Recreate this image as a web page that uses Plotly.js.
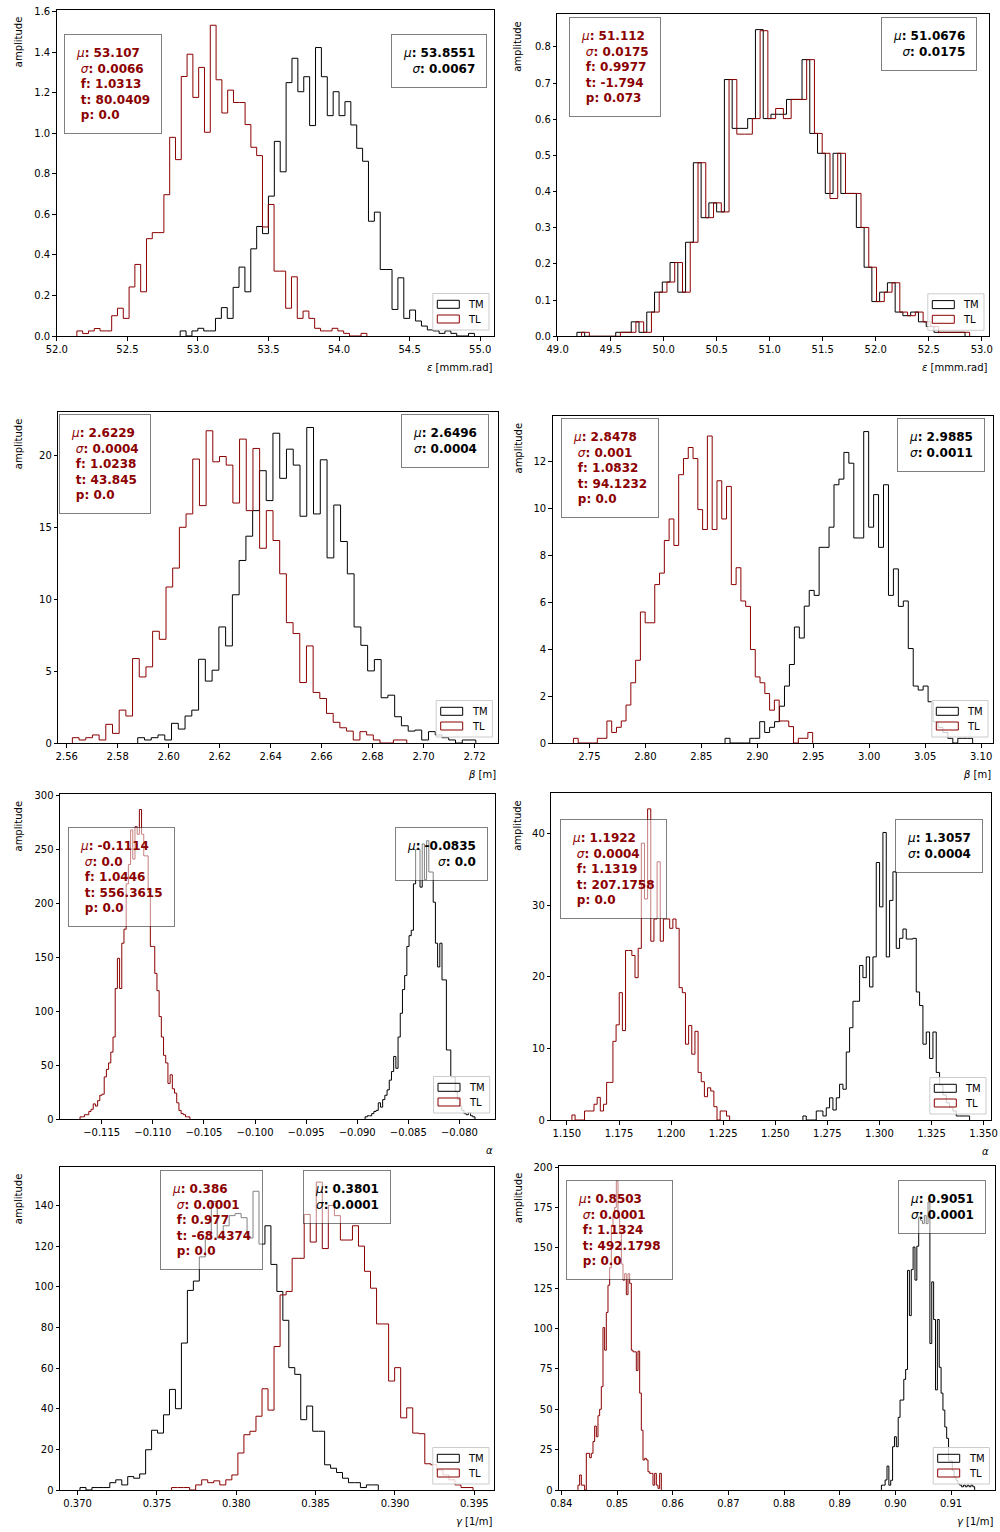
<!DOCTYPE html>
<html>
<head>
<meta charset="utf-8">
<script src="https://cdn.plot.ly/plotly-3.0.1.min.js"></script>
<style>html,body{margin:0;padding:0;background:#fff}</style>
</head>
<body>
<div id="chart" style="width:1000px;height:1532px"></div>
<script>
// ---- Histogram counts (50 bins each) and binning [first edge, bin width] ----
const emitX_TM_bins = [52.874, 0.0417];
const emitX_TM = [0.025, 0, 0.025, 0.038, 0.025, 0.025, 0.087, 0.140, 0.087, 0.240, 0.340, 0.218, 0.430, 0.540, 0.505, 0.690, 0.960, 0.810, 1.250, 1.370, 1.205, 1.279, 1.038, 1.423, 1.279, 1.087, 1.205, 1.087, 1.156, 1.041, 0.926, 0.862, 0.566, 0.611, 0.328, 0.328, 0.131, 0.287, 0.087, 0.128, 0.074, 0.049, 0.030, 0.025, 0.013, 0.025, 0.013, 0, 0, 0.013];
const emitX_TL_bins = [52.142, 0.0411];
const emitX_TL = [0.025, 0.012, 0.025, 0.037, 0.025, 0.025, 0.100, 0.137, 0.087, 0.242, 0.353, 0.218, 0.480, 0.510, 0.510, 0.697, 0.980, 0.870, 1.280, 1.390, 1.177, 1.325, 1.005, 1.533, 1.264, 1.100, 1.213, 1.152, 1.152, 1.043, 0.931, 0.890, 0.538, 0.649, 0.320, 0.320, 0.137, 0.292, 0.087, 0.123, 0.087, 0.038, 0.025, 0.025, 0.038, 0.025, 0.013, 0, 0, 0.013];

const emitY_TM_bins = [49.182, 0.0732];
const emitY_TM = [0.011, 0, 0, 0, 0, 0.011, 0.011, 0.040, 0.011, 0.067, 0.122, 0.150, 0.204, 0.122, 0.260, 0.480, 0.328, 0.369, 0.344, 0.710, 0.575, 0.575, 0.602, 0.848, 0.602, 0.614, 0.614, 0.655, 0.655, 0.765, 0.561, 0.506, 0.395, 0.506, 0.395, 0.395, 0.301, 0.191, 0.096, 0.122, 0.148, 0.067, 0.057, 0.067, 0.040, 0.027, 0.011, 0.011, 0.011, 0.011];
const emitY_TL_bins = [49.226, 0.0732];
const emitY_TL = [0.011, 0, 0, 0, 0, 0.011, 0.011, 0.040, 0.011, 0.067, 0.122, 0.150, 0.204, 0.122, 0.260, 0.480, 0.328, 0.369, 0.344, 0.710, 0.559, 0.559, 0.602, 0.845, 0.602, 0.630, 0.602, 0.655, 0.655, 0.765, 0.561, 0.506, 0.381, 0.506, 0.395, 0.395, 0.301, 0.191, 0.096, 0.122, 0.148, 0.067, 0.057, 0.067, 0.040, 0.027, 0.011, 0.011, 0.011, 0.011];

const betaX_TM_bins = [2.58786, 0.002653];
const betaX_TM = [0.37, 0.21, 0.37, 0.56, 0.21, 1.37, 0.97, 1.88, 2.29, 5.83, 4.31, 5.07, 8.08, 6.76, 10.32, 12.71, 14.40, 16.18, 18.96, 16.88, 21.57, 18.43, 20.46, 19.35, 15.79, 21.97, 15.95, 19.72, 12.89, 16.57, 14.03, 11.78, 8.08, 6.80, 5.02, 5.81, 3.15, 3.33, 1.83, 1.20, 0.83, 0.90, 0.21, 0.79, 0.56, 0.37, 0.21, 0, 0.21, 0.21];
const betaX_TL_bins = [2.56222, 0.002624];
const betaX_TL = [0.37, 0.21, 0.37, 0.56, 0.21, 1.30, 0.67, 2.29, 1.88, 5.88, 4.60, 5.30, 7.78, 7.22, 10.86, 12.18, 15.02, 15.95, 19.77, 16.53, 21.74, 19.58, 19.95, 19.35, 16.71, 21.16, 16.18, 20.51, 13.56, 16.18, 14.10, 11.78, 8.38, 7.62, 4.21, 6.76, 3.52, 3.10, 2.06, 1.44, 1.06, 0.83, 0.21, 0.79, 0.56, 0.21, 0, 0, 0.21, 0.21];

const betaY_TM_bins = [2.8712, 0.004425];
const betaY_TM = [0.20, 0, 0, 0, 0, 0.20, 0.20, 0.91, 0.45, 0.67, 0.91, 1.57, 2.43, 3.35, 4.95, 4.48, 5.84, 6.51, 6.30, 8.35, 8.35, 9.21, 11.02, 11.26, 12.40, 11.94, 8.75, 8.75, 13.29, 9.21, 10.60, 8.35, 11.02, 6.30, 7.43, 5.83, 6.06, 4.03, 2.43, 2.26, 2.43, 1.76, 0.91, 0.67, 0.45, 0.20, 0, 0.20, 0.20, 0.20];
const betaY_TL_bins = [2.7357, 0.004276];
const betaY_TL = [0.20, 0, 0, 0, 0, 0.20, 0.20, 0.94, 0.45, 0.67, 0.94, 1.62, 2.57, 3.53, 5.59, 5.13, 5.13, 6.76, 7.25, 8.64, 9.56, 8.43, 11.45, 12.14, 12.61, 12.14, 9.96, 9.11, 13.10, 9.11, 11.19, 9.56, 10.95, 6.76, 7.48, 6.06, 5.83, 3.99, 2.82, 2.57, 2.11, 1.40, 1.83, 0.94, 0.94, 0.70, 0, 0.20, 0.20, 0.45];

const alphaX_TM_bins = [-0.08923, 0.000215];
const alphaX_TM = [2, 3, 3, 5, 7, 8, 15, 11, 18, 22, 27, 36, 44, 58, 47, 76, 98, 120, 133, 160, 170, 175, 218, 250, 250, 215, 255, 222, 258, 229, 229, 201, 163, 141, 163, 129, 129, 64, 64, 39, 39, 25, 18, 12, 8, 5, 4, 6, 3, 2];
const alphaX_TL_bins = [-0.11712, 0.000215];
const alphaX_TL = [2, 2, 4, 4, 7, 9, 14, 12, 17, 22, 23, 39, 46, 52, 62, 76, 121, 149, 121, 163, 176, 218, 236, 268, 241, 271, 264, 287, 264, 244, 244, 210, 160, 160, 135, 119, 95, 76, 59, 52, 33, 41, 28, 24, 15, 8, 5, 4, 2, 2];

const alphaY_TM_bins = [1.26328, 0.0016];
const alphaY_TM = [0.56, 0, 0, 0, 1.26, 1.26, 0.56, 1.7, 3.1, 1.4, 3.1, 5.0, 4.3, 9.5, 12.9, 16.6, 16.6, 21.6, 19.9, 22.8, 18.6, 22.8, 36.0, 29.8, 40.2, 22.8, 30.7, 34.7, 24.0, 25.4, 26.7, 25.3, 25.3, 25.4, 17.9, 16.0, 10.6, 12.3, 8.6, 12.3, 6.65, 4.9, 3.5, 2.4, 1.8, 1.26, 0.56, 0.56, 0.56, 0.56];
const alphaY_TL_bins = [1.1524, 0.001514];
const alphaY_TL = [0.7, 0, 0, 0, 1.26, 1.26, 1.26, 2.2, 3.16, 1.26, 2.2, 5.26, 5.26, 11.0, 13.3, 17.8, 12.5, 23.7, 23.7, 23.0, 19.9, 24.0, 38.7, 30.9, 43.5, 25.0, 28.1, 36.1, 25.0, 28.1, 28.1, 26.8, 28.1, 26.8, 18.5, 17.8, 10.6, 13.2, 9.2, 12.4, 6.65, 5.35, 3.26, 4.5, 4.05, 1.86, 0, 1.26, 1.26, 0.56];

const gammaX_TM_bins = [0.37015, 0.000376];
const gammaX_TM = [1.2, 0, 1.2, 1.2, 1.2, 3.6, 5.0, 2.5, 6.6, 5.8, 7.9, 19.8, 29.4, 28.0, 37.0, 49.5, 40.0, 72.3, 98.2, 102.8, 114.7, 123.8, 142.0, 124.0, 130.0, 135.0, 136.0, 134.0, 124.0, 147.0, 121.0, 130.0, 111.0, 97.7, 83.5, 60.2, 56.9, 34.6, 41.3, 28.9, 28.9, 12.4, 10.7, 8.6, 5.8, 3.6, 3.6, 1.2, 2.5, 2.5];
const gammaX_TL_bins = [0.37592, 0.00038];
const gammaX_TL = [1.2, 1.2, 1.2, 0, 2.5, 5.0, 3.6, 4.5, 2.5, 5.0, 7.4, 18.2, 27.2, 28.9, 36.3, 49.8, 39.3, 70.6, 96.0, 97.7, 114.0, 114.0, 135.6, 122.0, 151.5, 118.8, 140.0, 135.0, 123.0, 123.0, 130.0, 120.0, 107.6, 99.3, 81.7, 81.7, 53.6, 60.2, 35.5, 40.4, 28.0, 27.7, 12.9, 12.4, 9.9, 7.4, 5.0, 2.5, 1.2, 1.2];

const gammaY_TM_bins = [0.89749, 0.000335];
const gammaY_TM = [3, 3, 6.2, 14.8, 3, 6, 26.8, 33, 26.8, 45, 55.7, 55.7, 68.5, 74.6, 136, 108, 136.5, 150.5, 130, 151, 169, 167, 165, 170, 165, 178.4, 90.7, 128.9, 105.6, 62, 105.6, 76, 60, 49.5, 39, 32, 18, 18, 12, 8, 6, 4, 3, 2, 3, 2, 3, 2, 3, 2];
const gammaY_TL_bins = [0.84299, 0.0002994];
const gammaY_TL = [3, 9.3, 3, 3, 0, 22.7, 22.7, 20, 22.7, 30, 39.6, 33, 46, 50, 64, 100.6, 86.6, 110, 126.8, 137.7, 164, 170, 175, 191.3, 170, 160, 140, 130, 134, 121, 134, 128, 86.6, 85.6, 85.6, 74, 86, 60, 37, 18.6, 19.6, 18.6, 11.3, 10.3, 10.3, 3, 10.3, 3, 1, 10.3];

// ---- Fit statistics printed in the boxes ----
const tlMu    = ['53.107', '51.112', '2.6229', '2.8478', '-0.1114', '1.1922', '0.386', '0.8503'];
const tlSigma = ['0.0066', '0.0175', '0.0004', '0.001', '0.0', '0.0004', '0.0001', '0.0001'];
const tlF     = ['1.0313', '0.9977', '1.0238', '1.0832', '1.0446', '1.1319', '0.977', '1.1324'];
const tlT     = ['80.0409', '-1.794', '43.845', '94.1232', '556.3615', '207.1758', '-68.4374', '492.1798'];
const tlP     = ['0.0', '0.073', '0.0', '0.0', '0.0', '0.0', '0.0', '0.0'];
const tmMu    = ['53.8551', '51.0676', '2.6496', '2.9885', '-0.0835', '1.3057', '0.3801', '0.9051'];
const tmSigma = ['0.0067', '0.0175', '0.0004', '0.0011', '0.0', '0.0004', '0.0001', '0.0001'];

const xLabels = ['<i>ε</i> [mmm.rad]', '<i>ε</i> [mmm.rad]', '<i>β</i> [m]', '<i>β</i> [m]',
                 '<i>α</i>', '<i>α</i>', '<i>γ</i> [1/m]', '<i>γ</i> [1/m]'];
const seriesNames = ['TM', 'TL'];

// ---- Per-panel axis and placement settings ----
const panels = [
  {tm: emitX_TM, tmb: emitX_TM_bins, tl: emitX_TL, tlb: emitX_TL_bins,
   box: [56.7, 494.3, 9.7, 336], xr: [51.999, 55.10], x0: 52, dx: 0.5, xf: '.1f', dy: 0.2, yf: '.1f',
   lb: [7.6, 24.6], rb: [7.6, 24.6]},
  {tm: emitY_TM, tmb: emitY_TM_bins, tl: emitY_TL, tlb: emitY_TL_bins,
   box: [557.3, 989.3, 14.3, 336.3], xr: [48.997, 53.071], x0: 49, dx: 0.5, xf: '.1f', dy: 0.1, yf: '.1f',
   lb: [12, 3], rb: [12, 3]},
  {tm: betaX_TM, tmb: betaX_TM_bins, tl: betaX_TL, tlb: betaX_TL_bins,
   box: [58.3, 497.7, 411.7, 743], xr: [2.5567, 2.7291], x0: 2.56, dx: 0.02, xf: '.2f', dy: 5, yf: 'd',
   lb: [0.7, 2.6], rb: [8.4, 2.6]},
  {tm: betaY_TM, tmb: betaY_TM_bins, tl: betaY_TL, tlb: betaY_TL_bins,
   box: [552.7, 993.3, 416, 743], xr: [2.7172, 3.1109], x0: 2.75, dx: 0.05, xf: '.2f', dy: 2, yf: 'd',
   lb: [8, 2.3], rb: [8.3, 2.3]},
  {tm: alphaX_TM, tmb: alphaX_TM_bins, tl: alphaX_TL, tlb: alphaX_TL_bins,
   box: [60, 495, 794, 1119], xr: [-0.11908, -0.07652], x0: -0.115, dx: 0.005, xf: '.3f', dy: 50, yf: 'd',
   lb: [8.3, 33.3], rb: [7.3, 33.3]},
  {tm: alphaY_TM, tmb: alphaY_TM_bins, tl: alphaY_TL, tlb: alphaY_TL_bins,
   box: [551.3, 991.3, 793.3, 1120], xr: [1.1425, 1.3537], x0: 1.15, dx: 0.025, xf: '.3f', dy: 10, yf: 'd',
   lb: [8.4, 25.7], rb: [8.3, 25.7]},
  {tm: gammaX_TM, tmb: gammaX_TM_bins, tl: gammaX_TL, tlb: gammaX_TL_bins,
   box: [60, 494.3, 1166.7, 1490], xr: [0.36889, 0.39626], x0: 0.37, dx: 0.005, xf: '.3f', dy: 20, yf: 'd',
   lb: [100, 3.3], rb: [103.6, 3.3]},
  {tm: gammaY_TM, tmb: gammaY_TM_bins, tl: gammaY_TL, tlb: gammaY_TL_bins,
   box: [559, 994.7, 1165.7, 1490], xr: [0.83958, 0.91784], x0: 0.84, dx: 0.01, xf: '.2f', dy: 25, yf: 'd',
   lb: [7.3, 14.3], rb: [8.4, 14.3]}
];

const W = 1000, H = 1532;
const TM_COLOR = 'black', TL_COLOR = '#8b0000';
const FONT = 'DejaVu Sans, Verdana, sans-serif';

// Step outline of a histogram: up at the first edge, across every bin, down at the last edge
function stepOutline(bins, counts) {
  const start = bins[0], width = bins[1], n = counts.length;
  const x = [start], y = [0];
  counts.forEach((c, i) => { x.push(start + i * width); y.push(c); });
  x.push(start + n * width); y.push(counts[n - 1]);
  x.push(start + n * width); y.push(0);
  return {x, y};
}

const traces = [], annotations = [], shapes = [];
const layout = {
  width: W, height: H,
  margin: {l: 0, r: 0, t: 0, b: 0},
  paper_bgcolor: 'white', plot_bgcolor: 'white',
  showlegend: false,
  font: {family: FONT, size: 10, color: 'black'}
};

panels.forEach((p, i) => {
  const k = i + 1, sfx = k === 1 ? '' : String(k);
  const xa = 'x' + sfx, ya = 'y' + sfx;
  const [l, r, t, b] = p.box;
  const ymax = Math.max(...p.tm, ...p.tl) * 1.05;

  const common = {
    showline: true, mirror: true, linecolor: 'black', linewidth: 1,
    ticks: 'outside', ticklen: 3.5, tickwidth: 1, tickcolor: 'black',
    showgrid: false, zeroline: false, fixedrange: true,
    tickfont: {family: FONT, size: 10, color: 'black'}
  };
  layout['xaxis' + sfx] = Object.assign({}, common, {
    domain: [l / W, r / W], anchor: ya, range: p.xr,
    tick0: p.x0, dtick: p.dx, tickformat: p.xf
  });
  layout['yaxis' + sfx] = Object.assign({}, common, {
    domain: [1 - b / H, 1 - t / H], anchor: xa, range: [0, ymax],
    tick0: 0, dtick: p.dy, tickformat: p.yf
  });

  [[p.tm, p.tmb, TM_COLOR, seriesNames[0]], [p.tl, p.tlb, TL_COLOR, seriesNames[1]]].forEach(([c, bins, col, nm]) => {
    const s = stepOutline(bins, c);
    traces.push({
      type: 'scatter', mode: 'lines', name: nm, x: s.x, y: s.y,
      xaxis: xa, yaxis: ya, hoverinfo: 'skip',
      line: {color: col, width: 1, shape: 'hv'}
    });
  });

  const xd = xa + ' domain', yd = ya + ' domain';

  // x label, right aligned under the axis
  annotations.push({
    xref: xd, yref: yd, x: 1, y: 0, xanchor: 'right', yanchor: 'middle',
    yshift: -31.5, showarrow: false, text: xLabels[i],
    font: {family: FONT, size: 10, color: 'black'}
  });
  // y label, aligned with the top of the axis
  annotations.push({
    xref: 'paper', yref: 'paper', x: (i % 2 === 0 ? 18 : 518) / W, y: 1 - t / H,
    xanchor: 'center', yanchor: 'top', textangle: -90, showarrow: false, yshift: -5,
    text: 'amplitude', font: {family: FONT, size: 10, color: 'black'}
  });

  // statistics boxes
  const nb = '\u00a0';
  annotations.push({
    xref: xd, yref: yd, x: 0, y: 1, xanchor: 'left', yanchor: 'top',
    xshift: p.lb[0], yshift: -p.lb[1], showarrow: false, align: 'left',
    text: '<i>μ</i><b>: ' + tlMu[i] + '</b><br>' + nb + '<i>σ</i><b>: ' + tlSigma[i] + '</b><br>' +
          nb + '<b>f: ' + tlF[i] + '</b><br>' + nb + '<b>t: ' + tlT[i] + '</b><br>' + nb + '<b>p: ' + tlP[i] + '</b>',
    font: {family: FONT, size: 12, color: TL_COLOR},
    bgcolor: 'rgba(255,255,255,0.5)', bordercolor: 'rgba(0,0,0,0.5)', borderwidth: 1, borderpad: 11
  });
  annotations.push({
    xref: xd, yref: yd, x: 1, y: 1, xanchor: 'right', yanchor: 'top',
    xshift: -p.rb[0], yshift: -p.rb[1], showarrow: false, align: 'right',
    text: '<i>μ</i><b>: ' + tmMu[i] + '</b><br><i>σ</i><b>: ' + tmSigma[i] + '</b>',
    font: {family: FONT, size: 12, color: TM_COLOR},
    bgcolor: 'rgba(255,255,255,0.5)', bordercolor: 'rgba(0,0,0,0.5)', borderwidth: 1, borderpad: 11
  });

  // legend in the lower right corner
  const px = {xref: xd, yref: yd, xsizemode: 'pixel', ysizemode: 'pixel', xanchor: 1, yanchor: 0, layer: 'above'};
  shapes.push(Object.assign({}, px, {type: 'rect', x0: -61.5, x1: -5.3, y0: 6, y1: 42.5,
    line: {color: '#cccccc', width: 1}, fillcolor: 'rgba(255,255,255,0.8)'}));
  shapes.push(Object.assign({}, px, {type: 'rect', x0: -57, x1: -35, y0: 27.7, y1: 35.7,
    line: {color: TM_COLOR, width: 1}, fillcolor: 'rgba(0,0,0,0)'}));
  shapes.push(Object.assign({}, px, {type: 'rect', x0: -57, x1: -35, y0: 13, y1: 21,
    line: {color: TL_COLOR, width: 1}, fillcolor: 'rgba(0,0,0,0)'}));
  [[seriesNames[0], 31.7], [seriesNames[1], 17]].forEach(([nm, dy]) => {
    annotations.push({
      xref: xd, yref: yd, x: 1, y: 0, xanchor: 'left', yanchor: 'middle',
      xshift: -28, yshift: dy, showarrow: false, text: nm,
      font: {family: FONT, size: 10, color: 'black'}
    });
  });
});

layout.annotations = annotations;
layout.shapes = shapes;

Plotly.newPlot('chart', traces, layout, {staticPlot: true, displayModeBar: false});
</script>
</body>
</html>
